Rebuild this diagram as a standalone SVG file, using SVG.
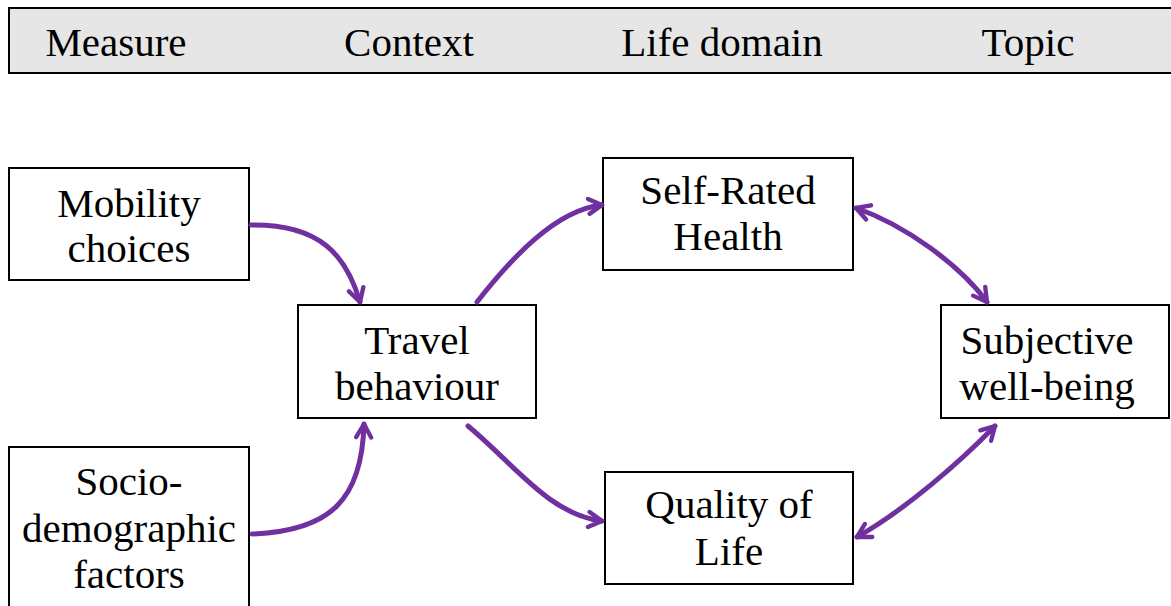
<svg xmlns="http://www.w3.org/2000/svg" width="1171" height="606" viewBox="0 0 1171 606">
<style>
.box{fill:#fff;stroke:#000;stroke-width:2}
.hdr{fill:#e6e6e6;stroke:#000;stroke-width:2}
text{font-family:"Liberation Serif","Times New Roman",serif;font-size:41px;fill:#000;text-anchor:middle}
.c{fill:none;stroke:#7030a0;stroke-width:5;stroke-linecap:round}
</style>
<defs>
<marker id="ah" viewBox="0 0 12 12" refX="10" refY="6" markerWidth="4" markerHeight="4" orient="auto-start-reverse" markerUnits="strokeWidth">
<path d="M2,1.5 L10,6 L2,10.5" fill="none" stroke="#7030a0" stroke-width="2.6" stroke-linecap="round" stroke-linejoin="round"/>
</marker>
</defs>
<g id="header">
<rect class="hdr" x="9" y="8" width="1170" height="65"/>
<text x="116" y="56">Measure</text>
<text x="409" y="56">Context</text>
<text x="722" y="56">Life domain</text>
<text x="1028" y="56">Topic</text>
</g>
<g id="mobility">
<rect class="box" x="9" y="168" width="240" height="112"/>
<text x="129" y="217">Mobility</text>
<text x="129" y="262">choices</text>
</g>
<g id="socio">
<rect class="box" x="9" y="447" width="240" height="170"/>
<text x="129" y="495">Socio-</text>
<text x="129" y="542">demographic</text>
<text x="129" y="588">factors</text>
</g>
<g id="travel">
<rect class="box" x="298" y="305" width="238" height="113"/>
<text x="417" y="354">Travel</text>
<text x="417" y="400">behaviour</text>
</g>
<g id="health">
<rect class="box" x="603" y="158" width="250" height="112"/>
<text x="728" y="204">Self-Rated</text>
<text x="728" y="250">Health</text>
</g>
<g id="qol">
<rect class="box" x="605" y="472" width="248" height="112"/>
<text x="729" y="518">Quality of</text>
<text x="729" y="565">Life</text>
</g>
<g id="swb">
<rect class="box" x="941" y="305" width="228" height="113"/>
<text x="1047" y="354">Subjective</text>
<text x="1047" y="400">well-being</text>
</g>
<g id="connectors">
<path class="c" marker-end="url(#ah)" d="M251,225 C320,224 346,255 360,302"/>
<path class="c" marker-end="url(#ah)" d="M252,534 C330,531 362,500 364,424"/>
<path class="c" marker-end="url(#ah)" d="M477,302 C510,260 555,210 602,205"/>
<path class="c" marker-end="url(#ah)" d="M468,426 C515,465 550,515 602,521"/>
<path class="c" marker-start="url(#ah)" marker-end="url(#ah)" d="M856,208 C905,225 960,265 987,302"/>
<path class="c" marker-start="url(#ah)" marker-end="url(#ah)" d="M995,426 C960,462 905,510 857,537"/>
</g>
</svg>
